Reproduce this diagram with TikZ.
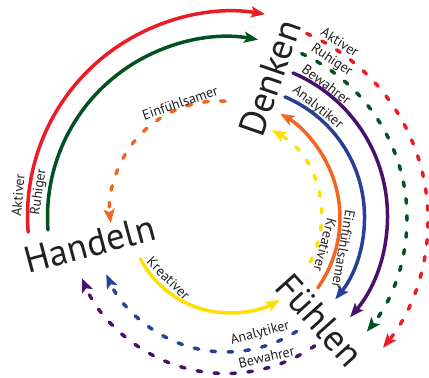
\documentclass[tikz,border=0pt]{standalone}
\usepackage{fontspec}
\setmainfont{PT Sans}
\usetikzlibrary{arrows.meta}

\definecolor{ink}{RGB}{35,31,32}
\definecolor{aktivred}{RGB}{237,28,36}
\definecolor{ruhiggreen}{RGB}{0,82,33}
\definecolor{bewahrpurple}{RGB}{74,16,110}
\definecolor{analyblue}{RGB}{38,64,152}
\definecolor{einforange}{RGB}{242,101,34}
\definecolor{kreayellow}{RGB}{255,222,0}

\tikzset{
	ring/.style = {line width = 3.5pt, line cap = round, -{Stealth[length = 14pt, width = 11pt, inset = 3pt]}},
	ringdash/.style = {ring, dash pattern = on 4.5pt off 12.5pt},
	lbl/.style = {font = \fontsize{14}{16}\selectfont, text = ink, inner sep = 0pt},
	word/.style = {font = \fontsize{37}{40}\selectfont, text = ink, inner sep = 0pt}
}

\begin{document}
\begin{tikzpicture} [x = 1pt, y = 1pt]
	\useasboundingbox (0,0) rectangle (429,378);
	% centres of the rings
	\coordinate (cRedA) at (232,162);
	\coordinate (cGreenA) at (227.5,161);
	\coordinate (cRedB) at (224,158);
	\coordinate (cGreenB) at (226,160);
	\coordinate (cPurpleA) at (232,162);
	\coordinate (cBlueA) at (234,161);
	\coordinate (cOrangeA) at (219,160);
	\coordinate (cYellowB) at (222,162);
	\coordinate (cOrangeB) at (219,168);
	\coordinate (cYellowA) at (230,166);
	\coordinate (cBlueB) at (226,157);
	\coordinate (cPurpleB) at (226,161);
	% Handeln -> Denken
	\draw [ring, aktivred] (cRedA) ++(184.5:204.5) arc [start angle = 184.5, end angle = 80.7, radius = 204.5];
	\draw [ring, ruhiggreen] (cGreenA) ++(184.1:180) arc [start angle = 184.1, end angle = 80.2, radius = 180];
	% Denken -> Fuehlen
	\draw [ringdash, aktivred] (cRedB) ++(66.1:204) arc [start angle = 66.1, end angle = -38.8, radius = 204];
	\draw [ringdash, ruhiggreen] (cGreenB) ++(65.3:181) arc [start angle = 65.3, end angle = -38.9, radius = 181];
	\draw [ring, bewahrpurple] (cPurpleA) ++(66.9:155.5) arc [start angle = 66.9, end angle = -40.6, radius = 155.5];
	\draw [ring, analyblue] (cBlueA) ++(67:130.5) arc [start angle = 67, end angle = -39.1, radius = 130.5];
	% Fuehlen -> Denken
	\draw [ring, einforange] (cOrangeA) ++(-35.3:121) arc [start angle = -35.3, end angle = 59.6, radius = 121];
	\draw [ringdash, kreayellow] (cYellowB) ++(-27.6:99.5) arc [start angle = -27.6, end angle = 59.8, radius = 99.5];
	% Denken -> Handeln
	\draw [ringdash, einforange] (cOrangeB) ++(86.8:109) arc [start angle = 86.8, end angle = 186.9, radius = 109];
	% Handeln -> Fuehlen
	\draw [ring, kreayellow] (cYellowA) ++(207.6:101) arc [start angle = 207.6, end angle = 299.6, radius = 101];
	% Fuehlen -> Handeln
	\draw [ringdash, analyblue] (cBlueB) ++(302.6:131) arc [start angle = 302.6, end angle = 204, radius = 131];
	\draw [ringdash, bewahrpurple] (cPurpleB) ++(304.6:156.5) arc [start angle = 304.6, end angle = 203, radius = 156.5];
	% the three words
	\node [word, rotate = 71] (denken) at (270,300) {Denken};
	\node [word, rotate = 15] (handeln) at (90,134) {Handeln};
	\node [word, rotate = -48] (fuehlen) at (320,58) {Fühlen};
	% labels
	\node [lbl, rotate = 85] (aktivL) at (18,183) {Aktiver};
	\node [lbl, rotate = 82] (ruhigL) at (39,186) {Ruhiger};
	\node [lbl, rotate = -33] (aktivR) at (340,336) {Aktiver};
	\node [lbl, rotate = -34] (ruhigR) at (331.5,317.5) {Ruhiger};
	\node [lbl, rotate = -37] (bewahrR) at (326.5,293.5) {Bewahrer};
	\node [lbl, rotate = -39] (analyR) at (317.5,270.5) {Analytiker};
	\node [lbl, rotate = -100] (einfR) at (343.5,129) {Einfühlsamer};
	\node [lbl, rotate = -105] (kreaR) at (325,133) {Kreativer};
	\node [lbl, rotate = 19] (einfT) at (180,275) {Einfühlsamer};
	\node [lbl, rotate = -45] (kreaB) at (168.5,99.5) {Kreativer};
	\node [lbl, rotate = 15] (analyB) at (260,44.5) {Analytiker};
	\node [lbl, rotate = 13] (bewahrB) at (266.5,21) {Bewahrer};
\end{tikzpicture}
\end{document}
